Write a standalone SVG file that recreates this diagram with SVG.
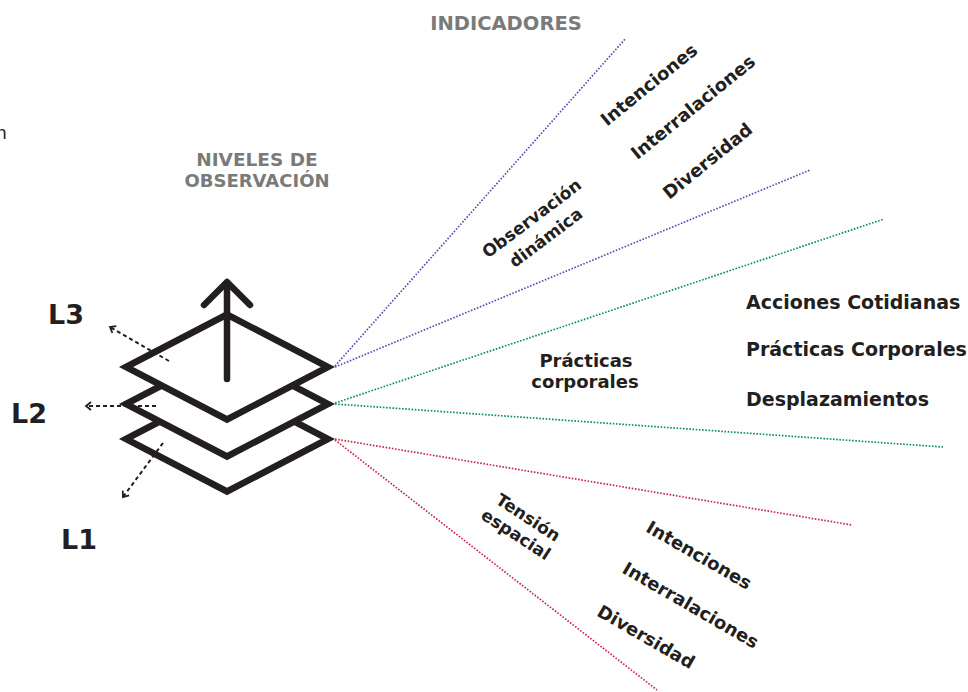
<svg xmlns="http://www.w3.org/2000/svg" width="968" height="692" viewBox="0 0 968 692">
<style>
.bg{fill:#ffffff}
.layer{fill:#ffffff;stroke:#231f20;stroke-width:6.5;stroke-linejoin:miter}
.up{fill:none;stroke:#231f20;stroke-width:6.5;stroke-linecap:round;stroke-linejoin:round}
.dash{fill:none;stroke:#231f20;stroke-width:2;stroke-dasharray:4 3}
.dot{fill:none;stroke-width:1.7;stroke-dasharray:1.6 1.6}
.pu{stroke:#5b4fb6}
.gr{stroke:#0d8a6c}
.rd{stroke:#c9264c}
.t{font-family:"DejaVu Sans","Liberation Sans",sans-serif;font-weight:bold;fill:#231f20}
.h{font-family:"DejaVu Sans","Liberation Sans",sans-serif;font-weight:bold;fill:#7a7a7a}
.lv{font-size:27px}
.c17{font-size:17px}
.c18{font-size:18px}
.c19{font-size:19px}
</style>
<defs>
<marker id="chev" viewBox="0 0 10 10" refX="8" refY="5" markerWidth="10" markerHeight="10" markerUnits="userSpaceOnUse" orient="auto">
<path d="M3,1 L8,5 L3,9" fill="none" stroke="#231f20" stroke-width="1.8"/>
</marker>
</defs>
<rect class="bg" x="0" y="0" width="968" height="692"/>

<text x="-4.5" y="139" font-family="DejaVu Sans, sans-serif" font-size="18" fill="#231f20">n</text>

<g id="title-indicadores"><text class="h" x="506" y="30" font-size="19.5" text-anchor="middle">INDICADORES</text></g>
<g id="title-niveles">
<text class="h" x="257" y="166" font-size="18.5" text-anchor="middle">NIVELES DE</text>
<text class="h" x="257" y="187" font-size="18" text-anchor="middle">OBSERVACIÓN</text>
</g>

<g id="stack">
<polygon id="layer-L1" class="layer" points="126,439 227,386.5 328,439 227,491.5"/>
<polygon id="layer-L2" class="layer" points="126,404 227,351.5 328,404 227,456.5"/>
<polygon id="layer-L3" class="layer" points="126,367 227,314.5 328,367 227,419.5"/>
<g id="arrow-up">
<line class="up" x1="227" y1="379" x2="227" y2="283"/>
<polyline class="up" points="204,305 227,282 250,305"/>
</g>
</g>

<g id="connectors">
<line class="dot pu" x1="335" y1="366" x2="626" y2="38"/>
<line class="dot pu" x1="335" y1="367" x2="810" y2="170"/>
<line class="dot gr" x1="335" y1="403" x2="884" y2="219"/>
<line class="dot gr" x1="335" y1="404" x2="943" y2="447"/>
<line class="dot rd" x1="335" y1="439" x2="852" y2="525"/>
<line class="dot rd" x1="335" y1="440" x2="657" y2="690"/>
<line class="dash" x1="169" y1="361" x2="110" y2="327" marker-end="url(#chev)"/>
<line class="dash" x1="156" y1="406" x2="86" y2="406" marker-end="url(#chev)"/>
<line class="dash" x1="163" y1="443" x2="123" y2="497" marker-end="url(#chev)"/>
</g>

<g id="label-L3"><text class="t lv" x="48" y="324">L3</text></g>
<g id="label-L2"><text class="t lv" x="11" y="423">L2</text></g>
<g id="label-L1"><text class="t lv" x="61" y="549">L1</text></g>

<g id="cat-observacion" class="t c17" text-anchor="middle">
<text transform="translate(531.7,218.3) rotate(-37)" y="6">Observación</text>
<text transform="translate(545.8,237.5) rotate(-37)" y="6">dinámica</text>
</g>
<g id="ind-top" class="t c18" text-anchor="middle">
<text transform="translate(648.8,84.5) rotate(-39)" y="6.5">Intenciones</text>
<text transform="translate(692.8,107) rotate(-39)" y="6.5">Interralaciones</text>
<text transform="translate(707.5,160.8) rotate(-39)" y="6.5">Diversidad</text>
</g>

<g id="cat-practicas" class="t c18" text-anchor="middle">
<text x="586" y="367">Prácticas</text>
<text x="585" y="388">corporales</text>
</g>
<g id="ind-mid" class="t c19">
<text x="746" y="309">Acciones Cotidianas</text>
<text x="746" y="356">Prácticas Corporales</text>
<text x="746" y="406">Desplazamientos</text>
</g>

<g id="cat-tension" class="t c17" text-anchor="middle">
<text transform="translate(528.3,517.5) rotate(33)" y="6">Tensión</text>
<text transform="translate(515,535.8) rotate(33)" y="4.2">espacial</text>
</g>
<g id="ind-bottom" class="t c18" text-anchor="middle">
<text transform="translate(699.2,555) rotate(30)" y="6.5">Intenciones</text>
<text transform="translate(690.8,605) rotate(30)" y="6.5">Interralaciones</text>
<text transform="translate(646.2,636.7) rotate(30)" y="6.5">Diversidad</text>
</g>
</svg>
